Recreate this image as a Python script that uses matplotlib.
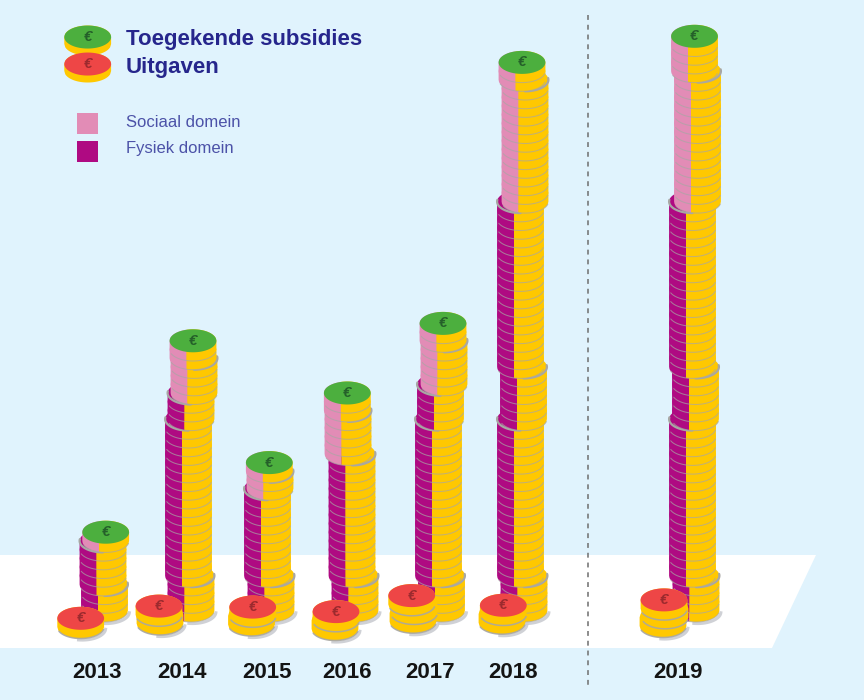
import numpy as np
import matplotlib
matplotlib.use("Agg")
import matplotlib.pyplot as plt
from matplotlib.patches import Polygon, Rectangle

plt.rcParams['font.family'] = ['Liberation Sans', 'DejaVu Sans']

# ---- data (unit: coins) ----
years = ['2013', '2014', '2015', '2016', '2017', '2018', '2019']
physical = [8, 25, 14, 18, 26, 47, 47]
social = [1, 6, 3, 7, 7, 16, 19]
spent = [1, 2, 2, 2, 3, 2, 3]

# ---- layout of the piles ----
pile_counts = [[3, 5, 1], [4, 18, 3, 4, 2], [4, 10, 2, 1], [4, 14, 5, 2],
               [4, 18, 4, 5, 2], [4, 18, 6, 19, 14, 2], [4, 18, 6, 19, 15, 4]]
pile_centres = [[104.5, 103, 105.7], [191, 188.5, 191, 194, 193],
                [271, 267.5, 270, 269.3], [355, 352, 348, 347.3],
                [441.5, 438.5, 440.5, 444, 443],
                [524, 520.5, 523.5, 520.5, 525, 522],
                [696, 692.5, 695.5, 692.5, 697.5, 694.5]]
spent_centres = [[80.7], [160, 159], [251.5, 252.7], [335, 336],
                 [413, 414, 411.7], [502, 503.3], [663, 665, 664]]
spent_base_px = [627, 623.5, 624.5, 629, 621.7, 622.7, 626]
label_x = [97, 182, 267, 347, 430, 513, 678]

BG, YEL, GREY = '#E0F3FD', '#FFC800', '#A8A7A4'
PURPLE, PINK = '#AF0A82', '#E28CB6'
GREEN, RED = '#4CAF3E', '#EE4646'
NAVY, BLUE = '#26268C', '#4C52A8'

BASE_PX, COIN_PX = 610.5, 8.7
RX, RY = 23.4, 11.5 / COIN_PX
SPLIT = 6.5


def val(px):
    return (BASE_PX - px) / COIN_PX


fig = plt.figure(figsize=(8.64, 7.0), dpi=100, facecolor=BG)
ax = fig.add_axes([0, 0, 1, 1], facecolor=BG)
ax.set_xlim(0, 864)
ax.set_ylim(val(700), val(0))
ax.axis('off')

# floor and separator
ax.add_patch(Polygon([(0, val(555)), (816, val(555)), (772, val(648)), (0, val(648))],
                     fc='white', ec='none', zorder=1))
ax.plot([588, 588], [val(15), val(685)], color='#6E6E6E', lw=1.1,
        dashes=(3.2, 3.2), zorder=1)

z = [10]


def nz():
    z[0] += 1
    return z[0]


def band(x0, x1, xc, v, h, color):
    xs = np.linspace(x0, x1, 48)
    half = RY * np.sqrt(np.clip(1 - ((xs - xc) / RX) ** 2, 0, 1))
    pts = np.r_[np.c_[xs, v + h + half], np.c_[xs[::-1], (v - half)[::-1]]]
    ax.add_patch(Polygon(pts, fc=color, ec='none', zorder=nz()))


def lower_arc(xc, v, lw=0.75, alpha=0.7):
    t = np.linspace(1.12 * np.pi, 1.93 * np.pi, 40)
    ax.plot(xc + RX * np.cos(t), v + RY * np.sin(t), color=GREY, lw=lw,
            alpha=alpha, zorder=nz(), solid_capstyle='round')


def rim(xc, v, side, lw=1.6):
    # side = +1 draws the lower right quarter, -1 the lower left quarter
    t = np.linspace(1.5 * np.pi, 2.05 * np.pi, 40) if side > 0 else \
        np.linspace(0.95 * np.pi, 1.5 * np.pi, 40)
    ax.plot(xc + RX * np.cos(t), v + RY * np.sin(t), color=GREY, lw=lw, zorder=nz(),
            solid_capstyle='round')


def coin(xc, v, left, h=1.0):
    band(xc - RX, xc - SPLIT, xc, v, h, left)
    band(xc - SPLIT, xc + RX, xc, v, h, YEL)
    lower_arc(xc, v)


def face(xc, v, color, mark):
    t = np.linspace(0, 2 * np.pi, 96)
    ax.add_patch(Polygon(np.c_[xc + RX * np.cos(t), v + RY * np.sin(t)],
                         fc=color, ec='none', zorder=nz()))
    ax.text(xc, v, '€', color=mark, fontsize=11, fontweight='bold', style='italic',
            ha='center', va='center', zorder=nz())


def shadow(xc, v):
    t = np.linspace(1.45 * np.pi, 1.98 * np.pi, 40)
    ax.plot(xc + 1.5 + RX * np.cos(t), v - 0.18 + RY * np.sin(t), color='#C4C6CC',
            lw=2.2, alpha=0.8, zorder=nz())


# granted piles
for i in range(len(years)):
    n = 0
    shadow(pile_centres[i][0], 0)
    cs = pile_centres[i]
    for k, (cnt, xc) in enumerate(zip(pile_counts[i], cs)):
        for _ in range(cnt):
            coin(xc, n, PURPLE if n < physical[i] else PINK)
            n += 1
        if k < len(cs) - 1:
            rim(xc, n, 1 if cs[k + 1] < xc else -1)
    face(cs[-1], physical[i] + social[i], GREEN, '#25602A')

# spent piles
for i in range(len(years)):
    b = val(spent_base_px[i])
    cs = spent_centres[i]
    shadow(cs[0], b)
    for c in range(spent[i]):
        xc = cs[c]
        band(xc - RX, xc + RX, xc, b + c, 1.0, YEL)
        lower_arc(xc, b + c, lw=1.1, alpha=0.9)
    face(cs[-1], b + spent[i], RED, '#9C2A2E')

# year labels
for x, y in zip(label_x, years):
    ax.text(x, val(672), y, fontsize=16, fontweight='bold', color='#141414',
            ha='center', va='center', zorder=nz())

# legend
for v0, col, mark in [(val(44), GREEN, '#25602A'), (val(71), RED, '#9C2A2E')]:
    band(87.7 - RX, 87.7 + RX, 87.7, v0, 0.8, YEL)
    face(87.7, v0 + 0.8, col, mark)
ax.text(126, val(39), 'Toegekende subsidies', fontsize=16, fontweight='bold',
        color=NAVY, ha='left', va='center', zorder=nz())
ax.text(126, val(67), 'Uitgaven', fontsize=16, fontweight='bold', color=NAVY,
        ha='left', va='center', zorder=nz())
for top, bot, col, lab, ty in [(113, 134, PINK, 'Sociaal domein', 122),
                               (141, 162, PURPLE, 'Fysiek domein', 148)]:
    ax.add_patch(Rectangle((77, val(bot)), 20.5, val(top) - val(bot), fc=col, ec='none',
                           zorder=nz()))
    ax.text(126, val(ty), lab, fontsize=12, color=BLUE, ha='left', va='center',
            zorder=nz())

fig.savefig('out.png', dpi=100, facecolor=BG)
